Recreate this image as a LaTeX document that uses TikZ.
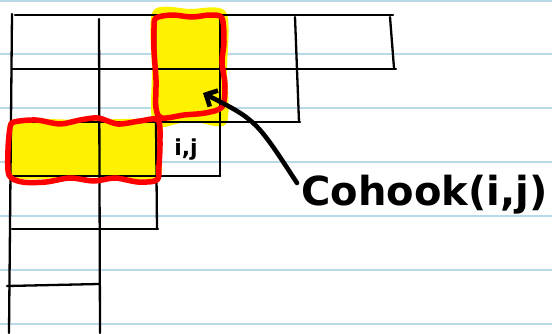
\documentclass[tikz,border=0pt]{standalone}
\usepackage{fontspec}
\newfontfamily\handfont{DejaVu Sans}
\usetikzlibrary{arrows.meta}
\definecolor{ruleblue}{RGB}{184,218,232}

\begin{document}
\begin{tikzpicture}[
    x=1pt, y=-1pt,
    rule/.style={draw=ruleblue, line width=1.3pt},
    gridline/.style={draw=black, line width=2.3pt, line cap=round},
    marker/.style={fill=yellow},
    hook/.style={draw=red, line width=5.5pt, line join=round},
    arrow/.style={-{Straight Barb[length=9pt, width=18pt]}, line width=4.6pt, line cap=round},
    handtext/.style={font=\handfont\bfseries\fontsize{40}{40}\selectfont, inner ysep=0pt, inner xsep=4pt}
  ]
    \useasboundingbox[fill=white] (0,0) rectangle (552,333);
    \foreach \y in {1,54,108,162,216,270,324}
      \draw[rule] (0,\y) -- (552,\y);

    \fill[marker] plot[smooth cycle] coordinates {(153,11) (190,9) (226,12) (227,70) (226,124) (190,121) (154,125) (152,70)};
    \fill[marker] plot[smooth cycle] coordinates {(12,121) (85,120) (158,121) (159,150) (157,178) (85,177) (12,178) (11,150)};

    \draw[gridline] (15,15) -- (393,15);
    \draw[gridline] (12,69) -- (396,69);
    \draw[gridline] (12,122) -- (300,122);
    \draw[gridline] (12,176) -- (220,176);
    \draw[gridline] (12,229) -- (158,229);
    \draw[gridline] (7,286) -- (99,284);
    \draw[gridline] (12,14) -- (9,333);
    \draw[gridline] (99,19) -- (100,333);
    \draw[gridline] (155,15) -- (157,229);
    \draw[gridline] (220,15) -- (220,176);
    \draw[gridline] (295,17) -- (299,122);
    \draw[gridline] (390,17) -- (394,68);

    \draw[hook] plot[smooth cycle] coordinates {(156,18) (172,15) (192,17) (210,15) (222,18) (224,42) (222,62) (225,86) (222,107) (205,113) (184,115) (162,118) (156,108) (156,80) (154,50) (154,28)};
    \draw[hook] plot[smooth cycle] coordinates {(14,122) (36,120) (60,124) (80,120) (98,118) (118,124) (140,121) (158,120) (160,142) (159,166) (157,180) (138,182) (115,178) (94,181) (70,178) (46,182) (22,182) (9,175) (8,150) (10,128)};

    \node[font=\handfont\bfseries\fontsize{22}{22}\selectfont] (cell) at (186,150) {i,j};
    \node[handtext, anchor=base west] (cohook) at (297,205) {Cohook(i,j)};
    \coordinate (tip) at (203,93);

    \draw[arrow] (cohook.175) .. controls (256,120) .. (tip);
  \end{tikzpicture}
\end{document}
